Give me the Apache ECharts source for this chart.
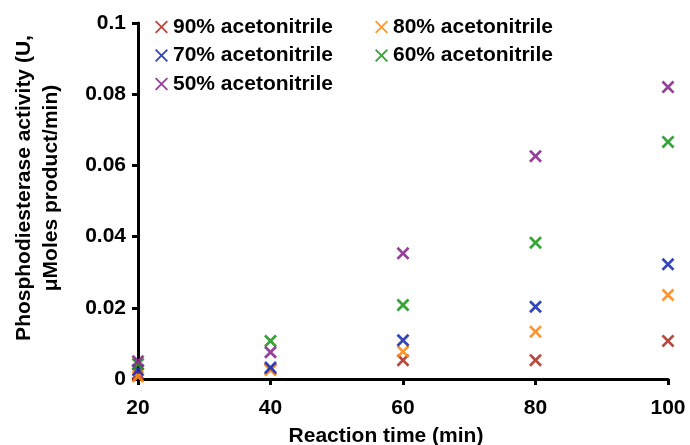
<!DOCTYPE html>
<html>
<head>
<meta charset="utf-8">
<script src="https://cdn.jsdelivr.net/npm/echarts@6/dist/echarts.min.js"></script>
<style>html,body{margin:0;padding:0;background:#fff;}#c{width:690px;height:445px;}</style>
</head>
<body>
<div id="c"></div>
<script>
var seriesNames = ['90% acetonitrile', '80% acetonitrile', '70% acetonitrile', '60% acetonitrile', '50% acetonitrile'];
var seriesColors = ['#B0352A', '#FF8C1A', '#1F32B0', '#1E9A1E', '#8B2C8E'];
var times = [20, 40, 60, 80, 100];
var acn90 = [0.0015, 0.0028, 0.0053, 0.0053, 0.0107];
var acn80 = [0.0007, 0.0025, 0.0077, 0.0133, 0.0236];
var acn70 = [0.0025, 0.0032, 0.0109, 0.0203, 0.0322];
var acn60 = [0.0042, 0.0107, 0.0208, 0.0383, 0.0666];
var acn50 = [0.0050, 0.0075, 0.0353, 0.0626, 0.0820];
var xTicks = [20, 40, 60, 80, 100];
var yTicks = [0, 0.02, 0.04, 0.06, 0.08, 0.1];

var allValues = [acn90, acn80, acn70, acn60, acn50];
var font = 'Arial, "Liberation Sans", sans-serif';
var xMark = 'path://M0,1.5 L1.5,0 L5,3.5 L8.5,0 L10,1.5 L6.5,5 L10,8.5 L8.5,10 L5,6.5 L1.5,10 L0,8.5 L3.5,5 Z';
var xIcon = 'path://M0,1 L1,0 L5,4 L9,0 L10,1 L6,5 L10,9 L9,10 L5,6 L1,10 L0,9 L4,5 Z';

var series = seriesNames.map(function (name, i) {
  return {
    name: name,
    type: 'scatter',
    symbol: xMark,
    symbolSize: 13,
    clip: false,
    itemStyle: { color: seriesColors[i], opacity: 0.9 },
    data: times.map(function (t, k) { return [t, allValues[i][k]]; })
  };
});

var legendText = { fontSize: 21, fontWeight: 'bold', color: '#000', fontFamily: font, lineHeight: 22 };
var chart = echarts.init(document.getElementById('c'));
chart.setOption({
  animation: false,
  backgroundColor: '#fff',
  grid: { left: 138, right: 22, top: 23, bottom: 66, containLabel: false, outerBoundsMode: 'none' },
  legend: [
    { data: [seriesNames[0], seriesNames[2], seriesNames[4]], orient: 'vertical', left: 155, top: 16, padding: 0,
      itemWidth: 13, itemHeight: 13, itemGap: 6.5, icon: xIcon, textStyle: legendText },
    { data: [seriesNames[1], seriesNames[3]], orient: 'vertical', left: 375, top: 16, padding: 0,
      itemWidth: 13, itemHeight: 13, itemGap: 6.5, icon: xIcon, textStyle: legendText }
  ],
  xAxis: {
    type: 'value', min: xTicks[0], max: xTicks[xTicks.length - 1], interval: 20,
    name: 'Reaction time (min)', nameLocation: 'middle', nameGap: 47,
    nameTextStyle: { fontSize: 21, fontWeight: 'bold', color: '#000', fontFamily: font, padding: [0, 34, 0, 0] },
    axisLine: { lineStyle: { color: '#000', width: 3 } },
    axisTick: { show: true, length: 6, lineStyle: { color: '#000', width: 3 } },
    axisLabel: { fontSize: 21, fontWeight: 'bold', color: '#000', fontFamily: font, margin: 19 },
    splitLine: { show: false }
  },
  yAxis: {
    type: 'value', min: yTicks[0], max: yTicks[yTicks.length - 1], interval: 0.02,
    name: 'Phosphodiesterase activity (U,\nμMoles product/min)', nameLocation: 'middle', nameGap: 73,
    nameTextStyle: { fontSize: 21, fontWeight: 'bold', color: '#000', fontFamily: font, lineHeight: 27, padding: [0, 0, 0, 26] },
    axisLine: { show: true, lineStyle: { color: '#000', width: 3 } },
    axisTick: { show: true, length: 6, lineStyle: { color: '#000', width: 3 } },
    axisLabel: { fontSize: 21, fontWeight: 'bold', color: '#000', fontFamily: font, margin: 12 },
    splitLine: { show: false }
  },
  series: series
});
</script>
</body>
</html>
